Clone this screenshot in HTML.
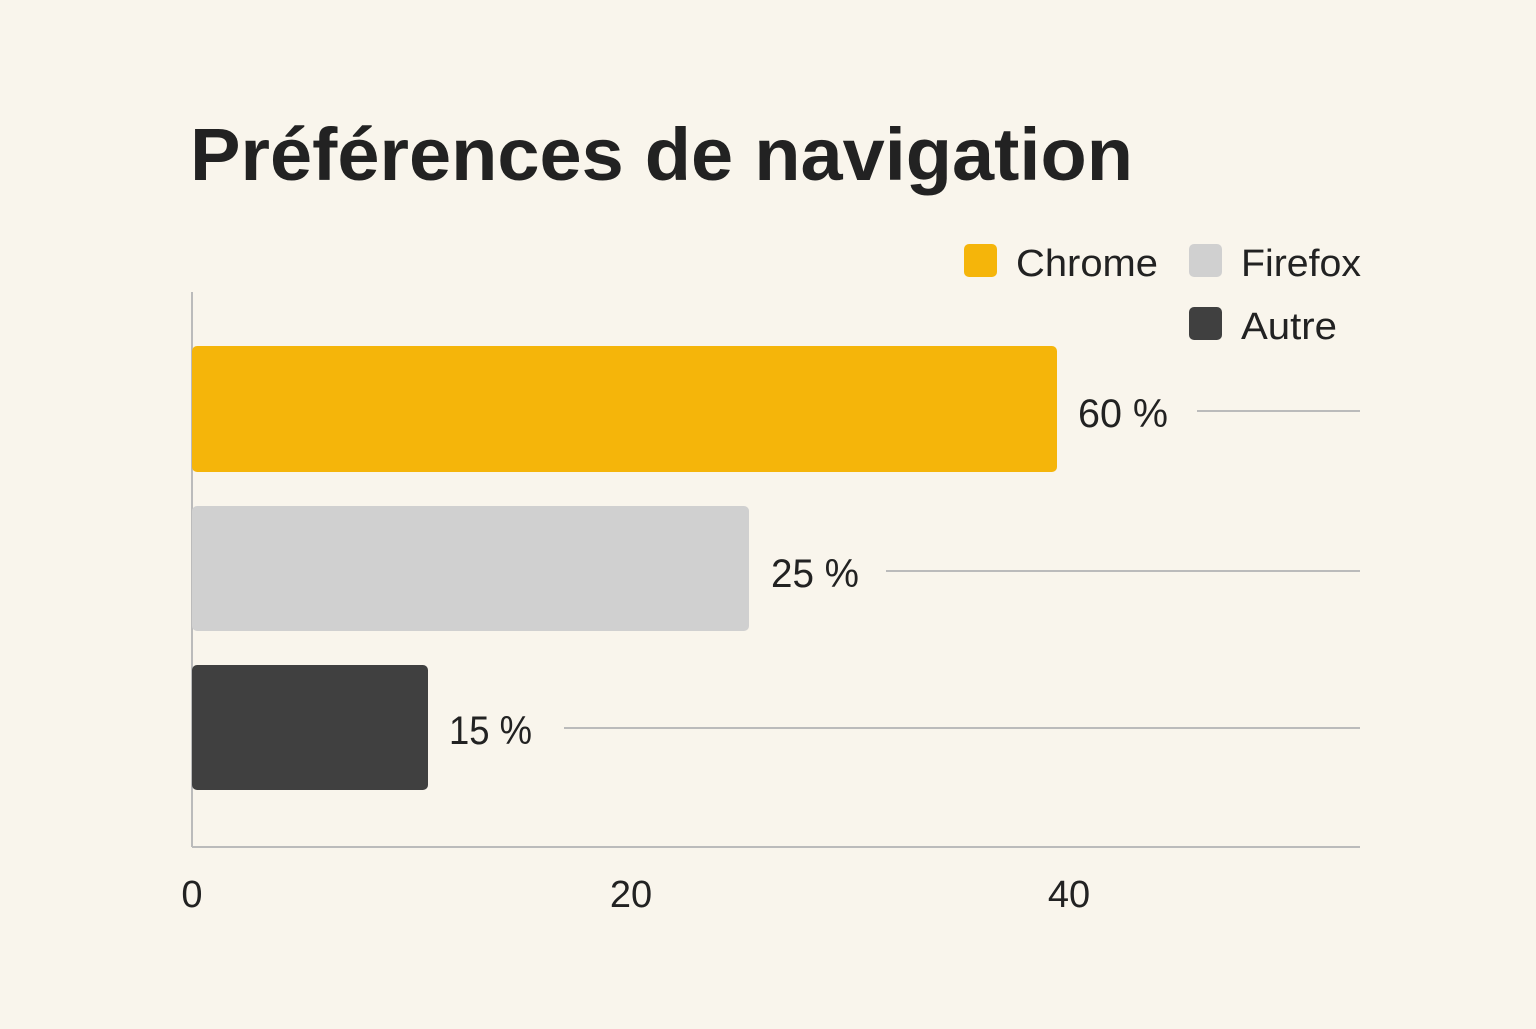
<!DOCTYPE html>
<html><head><meta charset="utf-8"><style>
html,body{margin:0;padding:0;background:#f9f5ec;}
body{width:1536px;height:1024px;overflow:hidden;font-family:"Liberation Sans",sans-serif;}
</style></head><body>
<svg width="1536" height="1024" xmlns="http://www.w3.org/2000/svg" font-family="Liberation Sans, sans-serif">
<rect width="1536" height="1024" fill="#f9f5ec"/>
<text x="190" y="180" font-size="74" font-weight="bold" fill="#222" textLength="943" lengthAdjust="spacingAndGlyphs">Préférences de navigation</text>
<rect x="964" y="244" width="33" height="33" rx="5" fill="#f5b50a"/>
<text x="1016" y="276" font-size="38" fill="#222" textLength="142" lengthAdjust="spacingAndGlyphs">Chrome</text>
<rect x="1189" y="244" width="33" height="33" rx="5" fill="#d0d0d0"/>
<text x="1241" y="276" font-size="38" fill="#222" textLength="120" lengthAdjust="spacingAndGlyphs">Firefox</text>
<rect x="1189" y="307" width="33" height="33" rx="5" fill="#404040"/>
<text x="1241" y="339" font-size="38" fill="#222" textLength="96" lengthAdjust="spacingAndGlyphs">Autre</text>
<line x1="192" y1="292" x2="192" y2="847" stroke="#bbb" stroke-width="2"/>
<line x1="192" y1="847" x2="1360" y2="847" stroke="#bbb" stroke-width="2"/>
<rect x="192" y="346" width="865" height="126" rx="5" fill="#f5b50a"/>
<rect x="192" y="506" width="557" height="125" rx="5" fill="#d0d0d0"/>
<rect x="192" y="665" width="236" height="125" rx="5" fill="#404040"/>
<text x="1078" y="427" font-size="40" fill="#222" textLength="90" lengthAdjust="spacingAndGlyphs">60 %</text>
<text x="771" y="587" font-size="40" fill="#222" textLength="88" lengthAdjust="spacingAndGlyphs">25 %</text>
<text x="449" y="744" font-size="40" fill="#222" textLength="83" lengthAdjust="spacingAndGlyphs">15 %</text>
<line x1="1197" y1="411" x2="1360" y2="411" stroke="#bbb" stroke-width="2"/>
<line x1="886" y1="571" x2="1360" y2="571" stroke="#bbb" stroke-width="2"/>
<line x1="564" y1="728" x2="1360" y2="728" stroke="#bbb" stroke-width="2"/>
<text x="192" y="907" font-size="38" fill="#222" text-anchor="middle">0</text>
<text x="631" y="907" font-size="38" fill="#222" text-anchor="middle">20</text>
<text x="1069" y="907" font-size="38" fill="#222" text-anchor="middle">40</text>
</svg>
</body></html>
